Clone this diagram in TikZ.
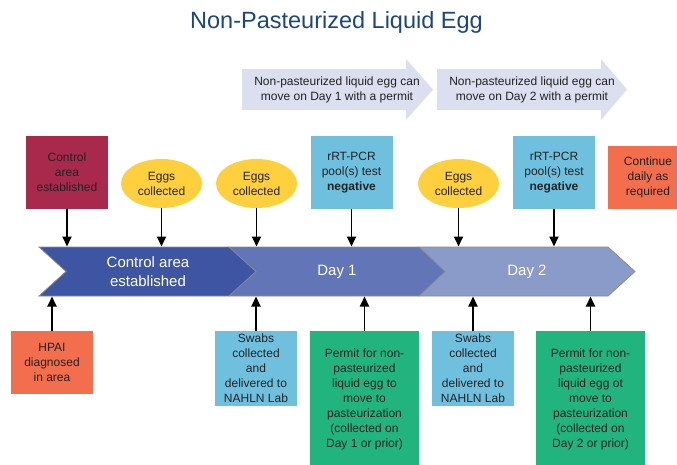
\documentclass[tikz,border=0pt]{standalone}
\usepackage{fontspec}
\setmainfont{Liberation Sans}
\usetikzlibrary{arrows.meta,shapes.geometric}
\definecolor{titleblue}{HTML}{1B4585}
\definecolor{ctrlred}{HTML}{A8294B}
\definecolor{eggyellow}{HTML}{FFD03E}
\definecolor{testblue}{HTML}{6EC0DE}
\definecolor{alertorange}{HTML}{F26E4D}
\definecolor{permitgreen}{HTML}{21B47F}
\definecolor{bandA}{HTML}{3E55A3}
\definecolor{bandB}{HTML}{6175B7}
\definecolor{bandC}{HTML}{8A9AC9}
\definecolor{lavender}{HTML}{DCDFEF}
\definecolor{txt}{HTML}{222222}
\begin{document}
\begin{tikzpicture}[x=1pt,y=-1pt,
  boxtext/.style={font=\fontsize{12}{15}\selectfont, text=txt, align=center, inner sep=0pt},
  box/.style={boxtext, rectangle, minimum width=#1},
  eggnode/.style={boxtext, ellipse, fill=eggyellow, minimum width=81pt, minimum height=49pt},
  ctrlbox/.style={box=82pt, fill=ctrlred, minimum height=73pt},
  pcrbox/.style={box=82pt, fill=testblue, minimum height=73pt},
  swabbox/.style={box=82pt, fill=testblue, minimum height=75pt},
  permitbox/.style={box=109pt, fill=permitgreen, minimum height=137pt},
  orangebox/.style={box=#1, fill=alertorange},
  bandseg/.style={draw=gray!90, line width=0.8pt, line join=miter},
  bandtext/.style={font=\fontsize{15}{19}\selectfont, text=white, align=center, inner sep=0pt},
  toparrow/.style={fill=lavender},
  arrowtext/.style={font=\fontsize{12}{14.5}\selectfont, text=txt, align=center, inner sep=0pt},
  conn/.style={line width=1.8pt, -{Triangle[length=10pt,width=9pt]}}
]
\clip (0,0) rectangle (677,464);

% title
\node[font=\fontsize{23.5}{28}\selectfont, text=titleblue, anchor=base] (title) at (336.5,28) {Non-Pasteurized Liquid Egg};

% top arrows
\fill[toparrow] (242,69) -- (406,69) -- (406,59) -- (433,89.5) -- (406,120) -- (406,110) -- (242,110) -- cycle;
\node[arrowtext] (move1) at (337,90) {Non-pasteurized liquid egg can\\move on Day 1 with a permit};
\fill[toparrow] (437,69) -- (601,69) -- (601,59) -- (627,89.5) -- (601,120) -- (601,110) -- (437,110) -- cycle;
\node[arrowtext] (move2) at (532,90) {Non-pasteurized liquid egg can\\move on Day 2 with a permit};

% band
\draw[bandseg, fill=bandC] (419,247) -- (608,247) -- (635,271.5) -- (608,296) -- (419,296) -- cycle;
\draw[bandseg, fill=bandB] (229,247) -- (419,247) -- (445,271.5) -- (419,296) -- (229,296) -- cycle;
\draw[bandseg, fill=bandA] (39,247) -- (229,247) -- (256,271.5) -- (229,296) -- (39,296) -- (66,271.5) -- cycle;
\node[bandtext] (bandctrl) at (148,272) {Control area\\established};
\node[bandtext] (day1) at (337,272) {Day 1};
\node[bandtext] (day2) at (527,272) {Day 2};
\coordinate (bandtop) at (0,246.5);
\coordinate (bandbot) at (0,296.5);

% top row
\node[ctrlbox] (ctrl) at (67,172.5) {Control\\area\\established};
\node[eggnode] (eggs1) at (161.5,183.5) {Eggs\\collected};
\node[eggnode] (eggs2) at (256.5,183.5) {Eggs\\collected};
\node[pcrbox] (pcr1) at (351.5,172.5) {rRT-PCR\\pool(s) test\\\textbf{negative}};
\node[eggnode] (eggs3) at (458.5,183.5) {Eggs\\collected};
\node[pcrbox] (pcr2) at (554,172.5) {rRT-PCR\\pool(s) test\\\textbf{negative}};
\node[orangebox=80pt, minimum height=63pt] (cont) at (648,177.5) {Continue\\daily as\\required};

% bottom row
\node[orangebox=82pt, minimum height=63pt] (hpai) at (52,362.5) {HPAI\\diagnosed\\in area};
\node[swabbox] (swab1) at (256,368.5) {Swabs\\collected\\and\\delivered to\\NAHLN Lab};
\node[permitbox] (permit1) at (364.5,399.5) {Permit for non-\\pasteurized\\liquid egg to\\move to\\pasteurization\\(collected on\\Day 1 or prior)};
\node[swabbox] (swab2) at (473,368.5) {Swabs\\collected\\and\\delivered to\\NAHLN Lab};
\node[permitbox] (permit2) at (590.5,399.5) {Permit for non-\\pasteurized\\liquid egg ot\\move to\\pasteurization\\(collected on\\Day 2 or prior)};

% connectors down to band
\foreach \n in {ctrl,eggs1,eggs2,pcr1,eggs3,pcr2}
  \draw[conn] (\n.south) -- (\n.south |- bandtop);
% connectors up to band
\foreach \n in {hpai,swab1,permit1,swab2,permit2}
  \draw[conn] (\n.north) -- (\n.north |- bandbot);
\end{tikzpicture}
\end{document}
